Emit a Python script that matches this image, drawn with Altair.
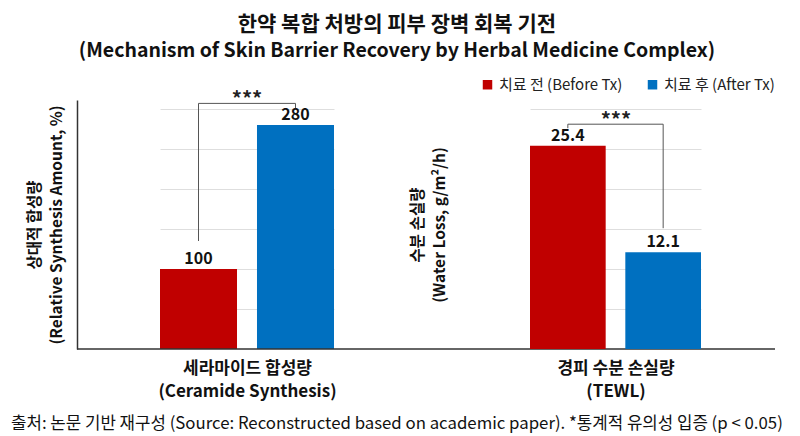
import altair as alt
import pandas as pd

FONT = "Noto Sans CJK KR"

title_text = "한약 복합 처방의 피부 장벽 회복 기전"
subtitle_text = "(Mechanism of Skin Barrier Recovery by Herbal Medicine Complex)"
footer_text = "출처: 논문 기반 재구성 (Source: Reconstructed based on academic paper). *통계적 유의성 입증 (p < 0.05)"

groups = ["치료 전 (Before Tx)", "치료 후 (After Tx)"]
colors = ["#c00000", "#0070c0"]

ceramide = [100, 280]
ceramide_labels = ["100", "280"]
ceramide_ticks = [50, 100, 150, 200, 250, 300]
ceramide_bracket = [135, 307, 307, 301]
ceramide_star = 307

tewl = [25.4, 12.1]
tewl_labels = ["25.4", "12.1"]
tewl_ticks = [5, 10, 15, 20, 25, 30]
tewl_bracket = [27.6, 28.1, 28.1, 15.1]
tewl_star = 28.1

H = 249


def panel(values, labels, ticks, ymax, bracket, star, ytitle, xtitle, width,
          xrange, step, first):
    df = pd.DataFrame({"group": groups, "value": values, "label": labels})
    xenc = alt.X(
        "group:N", sort=groups,
        scale=alt.Scale(domain=groups, range=xrange, paddingInner=0.206, paddingOuter=0),
        axis=alt.Axis(labels=False, ticks=False, domain=False, title=xtitle,
                      titleFont=FONT, titleFontSize=17, titleFontWeight="bold",
                      titleColor="#111", titlePadding=11, titleLineHeight=23),
    )
    yenc = alt.Y(
        "value:Q",
        scale=alt.Scale(domain=[0, ymax], nice=False, zero=True),
        axis=alt.Axis(values=ticks, labels=False, ticks=False, domain=first,
                      domainColor="#333", domainWidth=1.5,
                      grid=True, gridColor="#dedede", gridWidth=1,
                      title=ytitle, titleFont=FONT, titleFontSize=15.5,
                      titleFontWeight="bold", titleColor="#111",
                      titlePadding=13 if first else 11, titleLineHeight=22),
    )
    color = alt.Color(
        "group:N", sort=groups,
        scale=alt.Scale(domain=groups, range=colors),
        legend=None if first else alt.Legend(
            title=None, orient="none", direction="horizontal",
            legendX=22, legendY=-23, symbolType="square", symbolSize=90,
            symbolStrokeWidth=0, labelFont=FONT, labelFontSize=15,
            labelColor="#222", columnPadding=22, labelOffset=4, padding=0),
    )
    bars = alt.Chart(df).mark_bar().encode(x=xenc, y=yenc, color=color)
    vals = alt.Chart(df).mark_text(
        baseline="bottom", dy=-2, font=FONT, fontSize=16, fontWeight="bold", color="#111"
    ).encode(x="group:N", y="value:Q", text="label:N")

    bdf = pd.DataFrame({"step": [0, 1, 2, 3],
                        "group": [groups[0], groups[0], groups[1], groups[1]],
                        "value": bracket})
    br = alt.Chart(bdf).mark_line(color="#555", strokeWidth=1).encode(
        x="group:N", y="value:Q", order="step:Q")
    sdf = pd.DataFrame({"group": [groups[0]], "value": [star], "t": ["***"]})
    stars = alt.Chart(sdf).mark_text(
        baseline="alphabetic", dx=step / 2, dy=3, font=FONT, fontSize=20,
        fontWeight="bold", color="#222"
    ).encode(x="group:N", y="value:Q", text="t:N")

    layers = [bars, vals, br, stars]
    if first:
        base = alt.Chart(pd.DataFrame({"v": [0]})).mark_rule(
            color="#333", strokeWidth=1.5
        ).encode(y=alt.datum(0), x=alt.value(0), x2=alt.value(698))
        foot = alt.Chart(pd.DataFrame({"t": [footer_text]})).mark_text(
            align="left", baseline="middle", font=FONT, fontSize=16.8, color="#111"
        ).encode(x=alt.value(-66), y=alt.value(324), text="t:N")
        layers += [base, foot]
    return alt.layer(*layers).properties(width=width, height=H)


left = panel(ceramide, ceramide_labels, ceramide_ticks, 311.25, ceramide_bracket,
             ceramide_star, ["상대적 합성량", "(Relative Synthesis Amount, %)"],
             ["세라마이드 합성량", "(Ceramide Synthesis)"], 314, [83, 257], 97, True)
right = panel(tewl, tewl_labels, tewl_ticks, 31.125, tewl_bracket, tewl_star,
              ["수분 손실량", "(Water Loss, g/m²/h)"],
              ["경피 수분 손실량", "(TEWL)"], 317, [72, 243], 96, False)

chart = alt.hconcat(left, right, spacing=67, bounds="flush").resolve_scale(
    color="independent", x="independent", y="independent"
).properties(
    title=alt.TitleParams(
        text=title_text, subtitle=subtitle_text, anchor="middle", frame="bounds",
        font=FONT, fontSize=21, fontWeight="bold", color="#111",
        subtitleFont=FONT, subtitleFontSize=19.5, subtitleFontWeight="bold",
        subtitleColor="#111", subtitlePadding=7, offset=17),
    padding={"left": 3, "top": 5, "right": 0, "bottom": 0},
    background="white",
).configure_view(stroke=None)

chart.save("out.html", embed_options={"renderer": "svg", "actions": False})
